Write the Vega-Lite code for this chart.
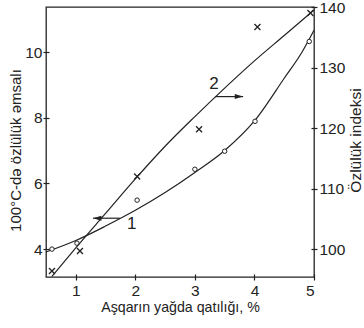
{
  "$schema": "https://vega.github.io/schema/vega-lite/v6.json",
  "width": 268,
  "height": 270,
  "autosize": {"type": "none"},
  "padding": {"left": 46, "top": 7, "right": 50, "bottom": 51},
  "background": "white",
  "config": {
    "view": {"stroke": "#222", "strokeWidth": 1.3},
    "font": "Liberation Sans",
    "axis": {
      "domain": false,
      "grid": false,
      "tickColor": "#222",
      "tickWidth": 1.2,
      "tickSize": 6,
      "offset": -3,
      "labelFont": "Liberation Sans",
      "labelFontSize": 15.5,
      "labelColor": "#222",
      "titleFont": "Liberation Sans",
      "titleFontSize": 14.5,
      "titleFontWeight": "normal",
      "titleColor": "#222"
    }
  },
  "datasets": {
    "curve1": [
      {"x": 0.5, "y": 3.91}, {"x": 1.0, "y": 4.26}, {"x": 1.5, "y": 4.7}, {"x": 2.0, "y": 5.18},
      {"x": 2.5, "y": 5.72}, {"x": 3.0, "y": 6.33}, {"x": 3.5, "y": 7.0}, {"x": 4.0, "y": 7.9},
      {"x": 4.5, "y": 9.2}, {"x": 4.8, "y": 10.0}, {"x": 5.0, "y": 10.66}
    ],
    "points1": [
      {"x": 0.6, "y": 4.0}, {"x": 1.02, "y": 4.18}, {"x": 2.03, "y": 5.49}, {"x": 3.0, "y": 6.43},
      {"x": 3.5, "y": 6.98}, {"x": 4.01, "y": 7.89}, {"x": 4.92, "y": 10.32}
    ],
    "curve2": [
      {"x": 0.6, "y": 95.5}, {"x": 1.0, "y": 100.2}, {"x": 1.5, "y": 105.9}, {"x": 2.0, "y": 111.6},
      {"x": 2.5, "y": 117.0}, {"x": 3.0, "y": 121.9}, {"x": 3.5, "y": 126.6}, {"x": 4.0, "y": 131.1},
      {"x": 4.5, "y": 135.3}, {"x": 5.0, "y": 139.5}
    ],
    "points2": [
      {"x": 0.6, "y": 96.4}, {"x": 1.07, "y": 99.7}, {"x": 2.03, "y": 112.0}, {"x": 3.07, "y": 119.8},
      {"x": 4.05, "y": 136.7}, {"x": 4.94, "y": 139.0}
    ],
    "arrow1": [{"x": 1.29, "x2": 1.74, "y": 4.94, "label": "1", "lx": 1.94, "ly": 4.76}],
    "arrow2": [{"x": 3.34, "x2": 3.81, "y": 125.2, "label": "2", "lx": 3.32, "ly": 127.3}]
  },
  "encoding": {
    "x": {
      "type": "quantitative",
      "scale": {"domain": [0.5, 5], "nice": false, "zero": false},
      "axis": {"values": [1, 2, 3, 4, 5], "title": "Aşqarın yağda qatılığı, %", "titleFontSize": 14.2, "labelPadding": 3, "titlePadding": 2}
    }
  },
  "layer": [
    {
      "encoding": {
        "y": {
          "type": "quantitative",
          "scale": {"domain": [3.15, 11.37], "nice": false, "zero": false},
          "axis": {"values": [4, 6, 8, 10], "title": "100°C-də özlülük əmsalı", "titleFontSize": 15, "labelPadding": 1, "titleX": -34, "titleY": 143, "titleAlign": "center", "titleBaseline": "middle", "titleAngle": 270}
        }
      },
      "layer": [
        {
          "data": {"name": "curve1"},
          "mark": {"type": "line", "interpolate": "monotone", "color": "#222", "strokeWidth": 1.2},
          "encoding": {"x": {"field": "x", "type": "quantitative"}, "y": {"field": "y", "type": "quantitative"}}
        },
        {
          "data": {"name": "points1"},
          "mark": {"type": "point", "shape": "circle", "size": 20, "filled": false, "color": "#222", "strokeWidth": 1, "fill": "white", "fillOpacity": 1, "opacity": 1},
          "encoding": {"x": {"field": "x", "type": "quantitative"}, "y": {"field": "y", "type": "quantitative"}}
        },
        {
          "data": {"name": "arrow1"},
          "mark": {"type": "rule", "color": "#222", "strokeWidth": 1.2},
          "encoding": {"x": {"field": "x", "type": "quantitative"}, "x2": {"field": "x2"}, "y": {"field": "y", "type": "quantitative"}}
        },
        {
          "data": {"name": "arrow1"},
          "mark": {"type": "point", "shape": "M0,0L2,-0.6L2,0.6Z", "size": 70, "filled": true, "color": "#222", "opacity": 1},
          "encoding": {"x": {"field": "x", "type": "quantitative"}, "y": {"field": "y", "type": "quantitative"}}
        },
        {
          "data": {"name": "arrow1"},
          "mark": {"type": "text", "font": "Liberation Sans", "fontSize": 17, "color": "#222", "baseline": "middle", "align": "center"},
          "encoding": {"x": {"field": "lx", "type": "quantitative"}, "y": {"field": "ly", "type": "quantitative"}, "text": {"field": "label"}}
        }
      ]
    },
    {
      "encoding": {
        "y": {
          "type": "quantitative",
          "scale": {"domain": [95.4, 140], "nice": false, "zero": false},
          "axis": {"orient": "right", "values": [100, 110, 120, 130, 140], "title": "Özlülük indeksi", "titleFontSize": 15.5, "titleAngle": 270, "labelPadding": 2, "titleX": 44, "titleY": 133, "titleAlign": "center", "titleBaseline": "middle"}
        }
      },
      "layer": [
        {
          "data": {"name": "curve2"},
          "mark": {"type": "line", "interpolate": "monotone", "color": "#222", "strokeWidth": 1.2},
          "encoding": {"x": {"field": "x", "type": "quantitative"}, "y": {"field": "y", "type": "quantitative"}}
        },
        {
          "data": {"name": "points2"},
          "mark": {"type": "point", "shape": "M-1,-1L1,1M-1,1L1,-1", "size": 36, "filled": false, "color": "#222", "strokeWidth": 1.3, "opacity": 1},
          "encoding": {"x": {"field": "x", "type": "quantitative"}, "y": {"field": "y", "type": "quantitative"}}
        },
        {
          "data": {"name": "arrow2"},
          "mark": {"type": "rule", "color": "#222", "strokeWidth": 1.2},
          "encoding": {"x": {"field": "x", "type": "quantitative"}, "x2": {"field": "x2"}, "y": {"field": "y", "type": "quantitative"}}
        },
        {
          "data": {"name": "arrow2"},
          "mark": {"type": "point", "shape": "M0,0L-2,-0.6L-2,0.6Z", "size": 70, "filled": true, "color": "#222", "opacity": 1},
          "encoding": {"x": {"field": "x2", "type": "quantitative"}, "y": {"field": "y", "type": "quantitative"}}
        },
        {
          "data": {"name": "arrow2"},
          "mark": {"type": "text", "font": "Liberation Sans", "fontSize": 17, "color": "#222", "baseline": "middle", "align": "center"},
          "encoding": {"x": {"field": "lx", "type": "quantitative"}, "y": {"field": "ly", "type": "quantitative"}, "text": {"field": "label"}}
        }
      ]
    }
  ],
  "resolve": {"scale": {"y": "independent"}, "axis": {"y": "independent"}}
}
